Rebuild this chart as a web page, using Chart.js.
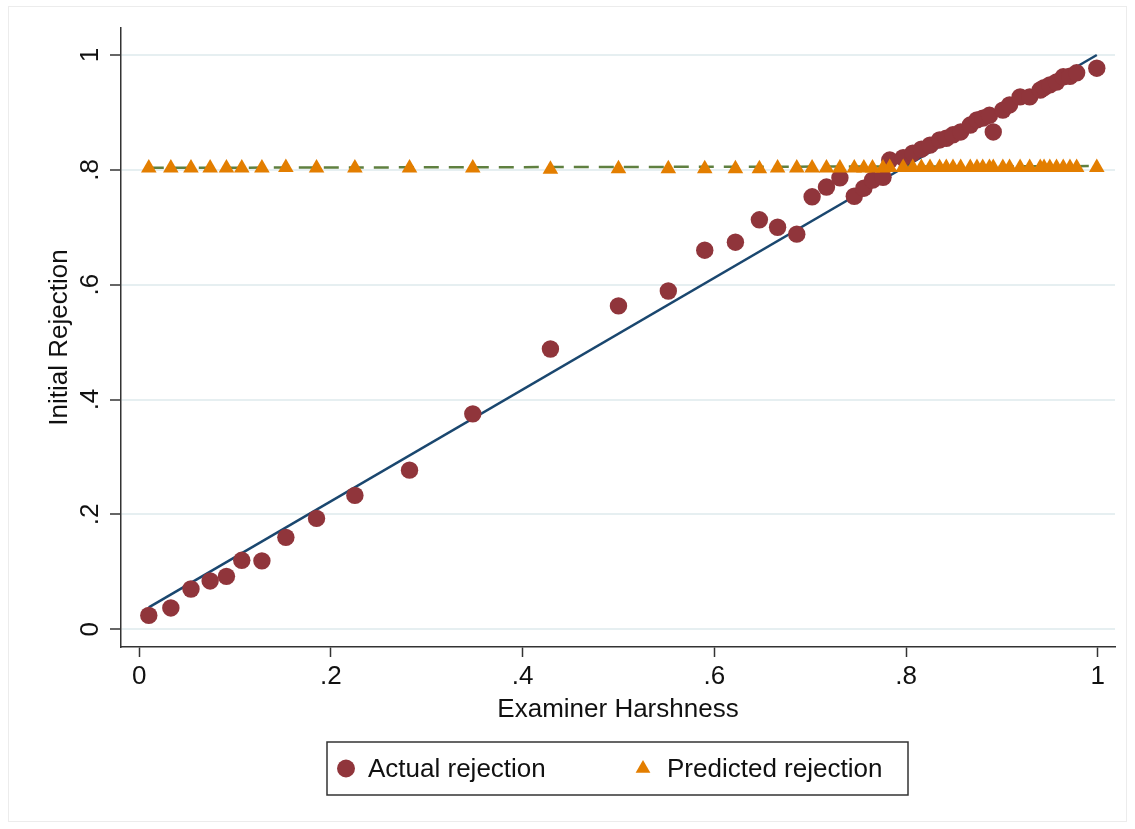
<!DOCTYPE html>
<html>
<head>
<meta charset="utf-8">
<title>Initial Rejection vs Examiner Harshness</title>
<script src="https://cdn.jsdelivr.net/npm/chart.js@4.4.1/dist/chart.umd.min.js"></script>
<style>
  html, body { margin: 0; padding: 0; background: #fff; }
  #wrap { width: 1135px; height: 829px; position: relative; }
</style>
</head>
<body>
<div id="wrap"><canvas id="grafico"></canvas></div>
<script>
// dados
const harshness = [0.010, 0.033, 0.054, 0.074, 0.091, 0.107, 0.128, 0.153, 0.185, 0.225,
  0.282, 0.348, 0.429, 0.500, 0.552, 0.590, 0.622, 0.647, 0.666, 0.686,
  0.702, 0.717, 0.731, 0.746, 0.756, 0.765, 0.776, 0.783, 0.797, 0.807,
  0.816, 0.825, 0.835, 0.842, 0.849, 0.857, 0.867, 0.874, 0.880, 0.887,
  0.891, 0.901, 0.908, 0.919, 0.929, 0.940, 0.944, 0.950, 0.957, 0.964,
  0.971, 0.978, 0.999];
const actual = [0.024, 0.037, 0.070, 0.084, 0.092, 0.120, 0.119, 0.160, 0.193, 0.233,
  0.277, 0.375, 0.488, 0.563, 0.589, 0.660, 0.674, 0.713, 0.700, 0.688,
  0.753, 0.770, 0.786, 0.754, 0.768, 0.782, 0.787, 0.817, 0.821, 0.829,
  0.836, 0.843, 0.852, 0.855, 0.861, 0.866, 0.878, 0.887, 0.890, 0.895,
  0.866, 0.904, 0.913, 0.927, 0.927, 0.939, 0.943, 0.948, 0.953, 0.962,
  0.963, 0.969, 0.977];
const predicted = [0.803, 0.803, 0.803, 0.803, 0.803, 0.803, 0.803, 0.804, 0.803, 0.803,
  0.803, 0.803, 0.801, 0.802, 0.802, 0.802, 0.802, 0.802, 0.803, 0.803,
  0.803, 0.803, 0.803, 0.803, 0.803, 0.803, 0.803, 0.804, 0.804, 0.804,
  0.804, 0.804, 0.804, 0.804, 0.804, 0.804, 0.804, 0.804, 0.804, 0.804,
  0.804, 0.804, 0.804, 0.804, 0.804, 0.804, 0.804, 0.804, 0.804, 0.804,
  0.804, 0.804, 0.804];
// retas ajustadas (extremos)
const fitX = [0.010, 0.999];
const fitActual = [0.038, 1.000];
const fitPredicted = [0.8035, 0.8065];

const xTicks = [0, 0.2, 0.4, 0.6, 0.8, 1];
const xTickLabels = ['0', '.2', '.4', '.6', '.8', '1'];
const yTicks = [0, 0.2, 0.4, 0.6, 0.8, 1];
const yTickLabels = ['0', '.2', '.4', '.6', '.8', '1'];

const corMaroon = '#90353b';
const corLaranja = '#e37e00';
const corNavy = '#1a476f';
const corVerde = '#5f8040';
const fonte = '"Liberation Sans", Arial, Helvetica, sans-serif';

function pontos(xs, ys) {
  return xs.map((x, i) => ({ x: x, y: ys[i] }));
}

// rótulos verticais do eixo y, moldura e legenda no estilo Stata
const estiloStata = {
  id: 'estiloStata',
  beforeDraw(chart) {
    const ctx = chart.ctx;
    ctx.save();
    ctx.fillStyle = '#ffffff';
    ctx.fillRect(0, 0, chart.width, chart.height);
    ctx.strokeStyle = '#ececec';
    ctx.lineWidth = 1;
    ctx.strokeRect(8.5, 6.5, chart.width - 17, chart.height - 14);
    ctx.restore();
  },
  afterDraw(chart) {
    const ctx = chart.ctx;
    const escalaY = chart.scales.y;
    ctx.save();
    ctx.fillStyle = '#111';
    ctx.font = '26px ' + fonte;
    ctx.textAlign = 'center';
    ctx.textBaseline = 'middle';
    yTicks.forEach((v, i) => {
      const y = escalaY.getPixelForValue(v);
      ctx.save();
      ctx.translate(91, y);
      ctx.rotate(-Math.PI / 2);
      ctx.fillText(yTickLabels[i], 0, 0);
      ctx.restore();
    });

    // legenda
    const caixa = { x: 327, y: 742, w: 581, h: 53 };
    ctx.strokeStyle = '#333';
    ctx.lineWidth = 1.5;
    ctx.strokeRect(caixa.x, caixa.y, caixa.w, caixa.h);
    const meio = caixa.y + caixa.h / 2;
    ctx.fillStyle = corMaroon;
    ctx.beginPath();
    ctx.arc(346, meio, 9, 0, Math.PI * 2);
    ctx.fill();
    ctx.fillStyle = corLaranja;
    const r = 8.5;
    ctx.beginPath();
    ctx.moveTo(643, meio - r);
    ctx.lineTo(643 + r * Math.sin(Math.PI * 2 / 3), meio - r * Math.cos(Math.PI * 2 / 3));
    ctx.lineTo(643 - r * Math.sin(Math.PI * 2 / 3), meio - r * Math.cos(Math.PI * 2 / 3));
    ctx.closePath();
    ctx.fill();
    ctx.fillStyle = '#111';
    ctx.textAlign = 'left';
    ctx.fillText(chart.data.datasets[0].label, 368, meio + 1);
    ctx.fillText(chart.data.datasets[1].label, 667, meio + 1);
    ctx.restore();
  }
};

const graficoEl = document.getElementById('grafico');
const grafico = new Chart(graficoEl, {
  type: 'scatter',
  data: {
    datasets: [{
      label: 'Actual rejection',
      data: pontos(harshness, actual),
      backgroundColor: corMaroon,
      borderColor: corMaroon,
      borderWidth: 0,
      pointRadius: 8.7,
      pointHoverRadius: 8.7,
      order: 1
    }, {
      label: 'Predicted rejection',
      data: pontos(harshness, predicted),
      pointStyle: 'triangle',
      backgroundColor: corLaranja,
      borderColor: corLaranja,
      borderWidth: 0,
      pointRadius: 9,
      pointHoverRadius: 9,
      order: 0
    }, {
      type: 'line',
      label: 'Fitted actual',
      data: pontos(fitX, fitActual),
      borderColor: corNavy,
      borderWidth: 2.5,
      pointRadius: 0,
      fill: false,
      order: 3
    }, {
      type: 'line',
      label: 'Fitted predicted',
      data: pontos(fitX, fitPredicted),
      borderColor: corVerde,
      borderWidth: 2.5,
      borderDash: [15, 10],
      pointRadius: 0,
      fill: false,
      order: 2
    }]
  },
  options: {
    responsive: true,
    maintainAspectRatio: false,
    animation: false,
    clip: false,
    layout: { padding: { top: 28, right: 20, left: 0, bottom: 0 } },
    plugins: {
      legend: { display: false },
      tooltip: { enabled: false }
    },
    scales: {
      x: {
        type: 'linear',
        min: -0.019,
        max: 1.018,
        afterFit: s => { s.height = 182; },
        afterBuildTicks: s => { s.ticks = xTicks.map(v => ({ value: v })); },
        border: { display: true, color: '#333', width: 1.5 },
        grid: { drawOnChartArea: false, drawTicks: true, tickLength: 10, tickColor: '#333', tickWidth: 1.5 },
        ticks: {
          autoSkip: false,
          maxRotation: 0,
          padding: 4,
          color: '#111',
          font: { family: fonte, size: 26 },
          callback: (v, i) => xTickLabels[i]
        },
        title: {
          display: true,
          text: 'Examiner Harshness',
          color: '#111',
          font: { family: fonte, size: 26 },
          padding: { top: 0, bottom: 104 }
        }
      },
      y: {
        type: 'linear',
        min: -0.031,
        max: 1.047,
        afterFit: s => { s.width = 121; },
        afterBuildTicks: s => { s.ticks = yTicks.map(v => ({ value: v })); },
        border: { display: true, color: '#333', width: 1.5 },
        grid: { color: '#e6eff1', lineWidth: 2, drawTicks: true, tickLength: 11, tickColor: '#333', tickWidth: 1.5 },
        ticks: { display: false },
        title: {
          display: true,
          text: 'Initial Rejection',
          color: '#111',
          font: { family: fonte, size: 26 },
          padding: { top: 44, bottom: 0 }
        }
      }
    }
  },
  plugins: [estiloStata]
});
</script>
</body>
</html>
